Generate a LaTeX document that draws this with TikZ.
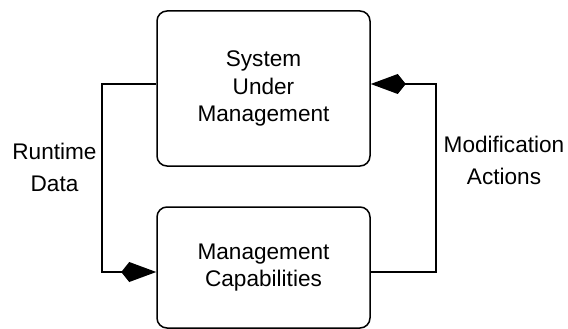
\documentclass[tikz,border=0pt]{standalone}
\usepackage{fontspec}
\setmainfont{Liberation Sans}
\usetikzlibrary{arrows.meta}
\begin{document}
\begin{tikzpicture}[x=1pt,y=-1pt,
  boxstyle/.style={draw,line width=1.5pt,rounded corners=10pt,minimum width=213pt,inner sep=0pt,align=center,font=\fontsize{22.6}{27.5}\selectfont},
  labelstyle/.style={align=center,inner sep=0pt,font=\fontsize{22.6}{32}\selectfont},
  conn/.style={line width=2.7pt,line join=miter,-{Kite[length=35pt,width=20pt,inset=8pt]}}]
\useasboundingbox (0,0) rectangle (568,329);
\node[boxstyle,minimum height=155pt] (top) at (263.5,88.5) {System\\Under\\Management};
\node[boxstyle,minimum height=121pt] (bot) at (263.5,267.5) {Management\\Capabilities};
\coordinate (l1) at (102,84);
\coordinate (l2) at (102,272);
\coordinate (r1) at (436,272);
\coordinate (r2) at (436,84);
\draw[conn] ([yshift=4.5pt]top.west) -- (l1) -- (l2) -- ([yshift=-4.5pt]bot.west);
\draw[conn] ([yshift=-4.5pt]bot.east) -- (r1) -- (r2) -- ([yshift=4.5pt]top.east);
\node[labelstyle] (rt) at (54.5,167) {Runtime\\Data};
\node[labelstyle] (ma) at (504,160) {Modification\\Actions};
\end{tikzpicture}
\end{document}
